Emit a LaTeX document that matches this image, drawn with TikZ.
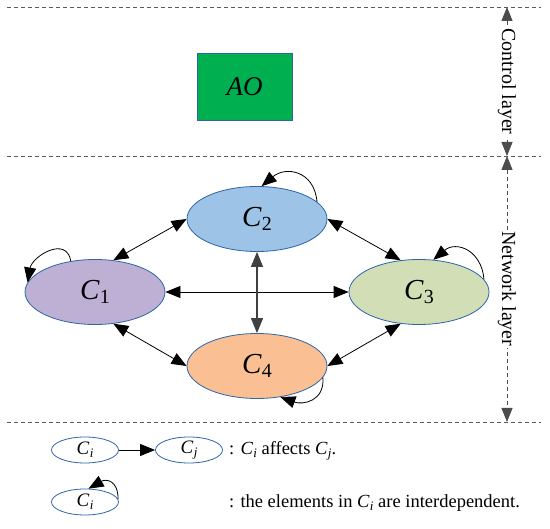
\documentclass[tikz,border=0pt]{standalone}
\usepackage{fontspec}
\setmainfont{Liberation Serif}
\usetikzlibrary{shapes.geometric,arrows.meta}
\definecolor{cone}{RGB}{190,176,212}
\definecolor{ctwo}{RGB}{157,195,230}
\definecolor{cthree}{RGB}{209,222,182}
\definecolor{cfour}{RGB}{250,192,148}
\definecolor{edgeblue}{RGB}{46,100,170}
\definecolor{aogreen}{RGB}{0,176,80}
\newcommand\Cn[2]{\textit{C}\kern0.3pt\raisebox{-0.35ex}{\fontsize{#2}{#2}\selectfont #1}}
\begin{document}
\begin{tikzpicture}[x=1pt,y=-1pt,
  tri/.tip={Triangle[length=15pt,width=12pt]},
  cl/.style={ellipse,draw=edgeblue,line width=0.8pt,minimum width=140pt,minimum height=65pt,inner sep=0pt,font=\fontsize{29}{31}\selectfont},
  lg/.style={ellipse,draw=edgeblue,line width=0.8pt,fill=white,minimum width=67pt,minimum height=26pt,inner sep=0pt,font=\fontsize{19}{21}\selectfont},
  link/.style={{tri}-{tri},line width=0.8pt},
  loop/.style={-{tri},line width=0.8pt},
  sep/.style={draw=black!65,line width=0.8pt,dash pattern=on 4pt off 3pt},
  dim/.style={draw=black!70,line width=0.8pt,dash pattern=on 4pt off 3pt,{Triangle[length=14pt,width=11pt]}-{Triangle[length=14pt,width=11pt]}},
  dimtext/.style={fill=white,rotate=-90,inner sep=2pt,font=\fontsize{20}{22}\selectfont},
  txt/.style={anchor=west,font=\fontsize{18.5}{21}\selectfont,inner sep=0pt}]
\useasboundingbox (0,0) rectangle (550,529);
% separators
\coordinate (s1a) at (7,7);   \coordinate (s1b) at (541,7);
\coordinate (s2a) at (7,156); \coordinate (s2b) at (541,156);
\coordinate (s3a) at (7,422); \coordinate (s3b) at (541,422);
\draw[sep] (s1a) -- (s1b);
\draw[sep] (s2a) -- (s2b);
\draw[sep] (s3a) -- (s3b);
% dimension arrows
\coordinate (d1) at (507,7);
\coordinate (d2) at (507,156);
\coordinate (d3) at (507,422);
\draw[dim] (d1) -- node[dimtext,solid] {Control layer} (d2);
\draw[dim] (d2) -- node[dimtext,solid] {Network layer} (d3);
% AO
\node[draw=edgeblue,fill=aogreen,minimum width=95pt,minimum height=67pt,inner sep=0pt,font=\fontsize{27}{29}\selectfont\itshape] (AO) at (244.5,86.5) {AO};
% clusters
\node[cl,fill=cone]   (C1) at (95,292)  {\Cn{1}{20}};
\node[cl,fill=ctwo]   (C2) at (257,219) {\Cn{2}{20}};
\node[cl,fill=cthree] (C3) at (419,292) {\Cn{3}{20}};
\node[cl,fill=cfour]  (C4) at (257,366) {\Cn{4}{20}};
% links
\draw[link] (C1.60) -- (C2.west);
\draw[link] (C2.east) -- (C3.120);
\draw[link] (C1.east) -- (C3.west);
\draw[link,draw=black!75,line width=1.1pt] (C2.south) -- (C4.north);
\draw[link] (C1.-60) -- (C4.west);
\draw[link] (C3.-120) -- (C4.east);
% self loops
\draw[loop] (C1.128) to[out=100,in=80,looseness=1.4] (C1.172);
\draw[loop] (C2.16) to[out=95,in=40,looseness=1.4] (C2.82);
\draw[loop] (C3.11) to[out=95,in=40,looseness=1.4] (C3.66);
\draw[loop] (C4.-10) to[out=-85,in=-20,looseness=1.3] (C4.-53);
% legend
\node[lg] (Li) at (85,450) {\Cn{\textit{i}}{13}};
\node[lg] (Lj) at (189,450) {\Cn{\textit{j}}{13}};
\draw[loop] (Li.east) -- (Lj.west);
\node[txt] (T1) at (229,451) {: \Cn{\textit{i}}{13} affects \Cn{\textit{j}}{13}.};
\node[lg] (Lk) at (85,502) {\Cn{\textit{i}}{13}};
\draw[loop] (Lk.5) to[out=90,in=30,looseness=1.6] (Lk.75);
\node[txt] (T2) at (229,503) {: the elements in \Cn{\textit{i}}{13} are interdependent.};
\end{tikzpicture}
\end{document}
